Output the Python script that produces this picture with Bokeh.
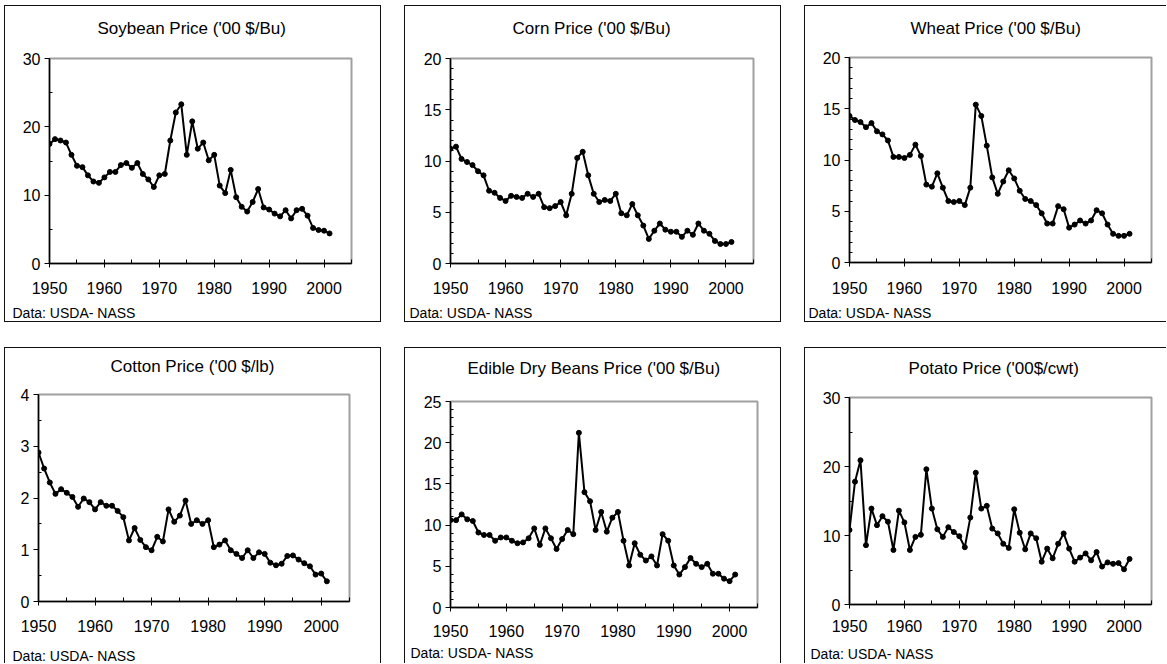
from bokeh.plotting import figure
from bokeh.layouts import row, column
from bokeh.models import Range1d, FixedTicker, Title, Spacer
from bokeh.embed import file_html
from bokeh.resources import INLINE

years = list(range(1950, 2002))

soybean = [17.5, 18.2, 18.0, 17.7, 15.9, 14.3, 14.1, 12.9, 12.0, 11.8,
           12.6, 13.4, 13.4, 14.4, 14.7, 14.0, 14.7, 13.1, 12.3, 11.2,
           12.9, 13.1, 18.0, 22.1, 23.3, 15.9, 20.8, 16.8, 17.7, 15.1,
           15.9, 11.4, 10.3, 13.7, 9.7, 8.3, 7.6, 9.0, 10.9, 8.2,
           7.9, 7.3, 6.9, 7.8, 6.6, 7.8, 8.0, 7.0, 5.2, 4.9,
           4.8, 4.4]
corn = [11.2, 11.4, 10.2, 9.9, 9.6, 9.0, 8.6, 7.1, 6.9, 6.4,
        6.1, 6.6, 6.5, 6.4, 6.8, 6.5, 6.8, 5.5, 5.4, 5.6,
        6.0, 4.7, 6.8, 10.3, 10.9, 8.6, 6.8, 6.0, 6.2, 6.1,
        6.8, 4.9, 4.7, 5.8, 4.7, 3.7, 2.4, 3.2, 3.9, 3.3,
        3.1, 3.1, 2.6, 3.2, 2.8, 3.9, 3.2, 2.9, 2.2, 1.9,
        1.9, 2.1]
wheat = [14.3, 13.9, 13.7, 13.2, 13.6, 12.8, 12.5, 11.9, 10.3, 10.3,
         10.2, 10.5, 11.5, 10.4, 7.6, 7.4, 8.7, 7.3, 6.0, 5.9,
         6.0, 5.6, 7.3, 15.4, 14.3, 11.4, 8.3, 6.7, 7.9, 9.0,
         8.2, 7.0, 6.2, 6.0, 5.6, 4.8, 3.8, 3.8, 5.5, 5.2,
         3.4, 3.7, 4.1, 3.8, 4.1, 5.1, 4.8, 3.7, 2.8, 2.6,
         2.6, 2.8]
cotton = [2.88, 2.57, 2.30, 2.08, 2.17, 2.10, 2.02, 1.83, 1.99, 1.92,
          1.78, 1.92, 1.85, 1.85, 1.75, 1.63, 1.18, 1.42, 1.19, 1.05,
          0.99, 1.25, 1.16, 1.78, 1.54, 1.66, 1.95, 1.50, 1.57, 1.50,
          1.57, 1.05, 1.10, 1.18, 0.99, 0.92, 0.84, 0.99, 0.84, 0.95,
          0.92, 0.75, 0.70, 0.73, 0.88, 0.89, 0.81, 0.74, 0.68, 0.52,
          0.54, 0.39]
beans = [10.6, 10.6, 11.3, 10.7, 10.5, 9.1, 8.8, 8.8, 8.1, 8.5,
         8.5, 8.1, 7.8, 7.9, 8.4, 9.6, 7.6, 9.6, 8.4, 7.1,
         8.3, 9.4, 8.9, 21.2, 14.0, 12.9, 9.4, 11.6, 9.2, 10.9,
         11.6, 8.1, 5.1, 7.8, 6.4, 5.7, 6.2, 5.1, 8.9, 8.1,
         5.1, 4.0, 4.9, 6.0, 5.3, 4.9, 5.3, 4.1, 4.1, 3.5,
         3.2, 4.0]
potato = [10.8, 17.8, 20.9, 8.6, 13.9, 11.5, 12.8, 12.0, 7.9, 13.6,
          11.9, 7.9, 9.8, 10.1, 19.6, 13.9, 10.9, 9.8, 11.2, 10.5,
          9.9, 8.3, 12.6, 19.1, 13.9, 14.3, 11.0, 10.3, 8.8, 8.2,
          13.8, 10.4, 8.0, 10.3, 9.6, 6.2, 8.1, 6.7, 8.8, 10.3,
          8.1, 6.2, 6.8, 7.4, 6.4, 7.6, 5.5, 6.1, 5.9, 6.0,
          5.1, 6.6]

titles = ["Soybean Price ('00 $/Bu)", "Corn Price ('00 $/Bu)", "Wheat Price ('00 $/Bu)",
          "Cotton Price ('00 $/lb)", "Edible Dry Beans Price ('00 $/Bu)", "Potato Price ('00$/cwt)"]
source_note = "Data: USDA- NASS"

x_ticks = [1950, 1960, 1970, 1980, 1990, 2000]
x_minor = [1955, 1965, 1975, 1985, 1995, 2005]

y_max = [30, 20, 20, 4, 25, 30]
y_ticks = [[0, 10, 20, 30], [0, 5, 10, 15, 20], [0, 5, 10, 15, 20],
           [0, 1, 2, 3, 4], [0, 5, 10, 15, 20, 25], [0, 10, 20, 30]]
y_minor = [[5, 15, 25],
           [v for v in range(1, 20) if v % 5],
           [v for v in range(1, 20) if v % 5],
           [0.5, 1.5, 2.5, 3.5],
           [v for v in range(1, 25) if v % 5],
           [5, 15, 25]]

FONT = "Liberation Sans"
BOX = "#111111"

# (width, height, border left, right, top, bottom, title gap, title x offset,
#  tick label standoff, note gap, note x offset)
layouts = [
    (375, 315, 44, 29, 52, 58, 18, 48, 14, 3, -37),
    (375, 315, 45, 27, 52, 58, 18, 62, 14, 3, -41),
    (361, 315, 44, 15, 51, 59, 17, 61, 15, 3, -41),
    (375, 315, 33, 31, 46, 62, 16, 72, 14, 8, -26),
    (375, 315, 45, 23, 53, 56, 21, 17, 13, 0, -40),
    (361, 315, 44, 15, 49, 59, 17, 59, 11, 6, -39),
]
series = [soybean, corn, wheat, cotton, beans, potato]


def gap_title(size):
    # blank side-panel entry that only reserves vertical space
    return Title(text=" ", text_font=FONT, text_font_size="1px", text_color="white",
                 standoff=size)


def make_panel(i):
    w, h, bl, br, bt, bb, tgap, toff, lstand, ngap, noff = layouts[i]
    p = figure(width=w, height=h, x_range=Range1d(1950, 2005), y_range=Range1d(0, y_max[i]),
               output_backend="svg", toolbar_location=None, title_location=None,
               min_border_left=bl, min_border_right=br, min_border_top=bt, min_border_bottom=bb,
               background_fill_color="white", border_fill_color="white")
    xa = p.below[0]
    ya = p.left[0]

    p.add_layout(gap_title(tgap), "above")
    head = Title(text=titles[i], align="left", offset=toff, text_font=FONT,
                 text_font_size="17px", text_font_style="normal", text_color="black", standoff=0)
    p.add_layout(head, "above")

    p.add_layout(gap_title(ngap), "below")
    note = Title(text=source_note, align="left", text_font=FONT, text_font_size="14px",
                 text_font_style="normal", text_color="black", offset=noff, standoff=0)
    p.add_layout(note, "below")

    p.xgrid.visible = False
    p.ygrid.visible = False
    p.outline_line_color = "#a0a0a0"
    p.outline_line_width = 2

    xa.ticker = FixedTicker(ticks=x_ticks, minor_ticks=x_minor)
    ya.ticker = FixedTicker(ticks=y_ticks[i], minor_ticks=y_minor[i])
    for ax in (xa, ya):
        ax.axis_line_color = "black"
        ax.axis_line_width = 1.5
        ax.major_tick_line_color = "black"
        ax.minor_tick_line_color = "black"
        ax.major_label_text_font = FONT
        ax.major_label_text_font_size = "16px"
        ax.major_label_text_color = "black"
    xa.major_tick_in = 4
    xa.major_tick_out = 4
    xa.minor_tick_in = 4
    xa.minor_tick_out = 0
    xa.major_label_standoff = lstand
    ya.major_tick_in = 0
    ya.major_tick_out = 5
    ya.minor_tick_in = 3
    ya.minor_tick_out = 0
    ya.major_label_standoff = 4

    p.line(years, series[i], line_color="black", line_width=2)
    p.scatter(years, series[i], size=5, color="black")
    return p


def hline(w):
    return Spacer(width=w, height=1, styles={"background-color": BOX})


def vline(h):
    return Spacer(width=1, height=h, styles={"background-color": BOX})


panels = [make_panel(i) for i in range(6)]

row1 = row(Spacer(width=4, height=317),
           vline(317), column(hline(375), panels[0], hline(375)), vline(317),
           Spacer(width=23, height=317),
           vline(317), column(hline(375), panels[1], hline(375)), vline(317),
           Spacer(width=23, height=317),
           vline(317), column(hline(361), panels[2], hline(361)))
row2 = row(Spacer(width=4, height=316),
           vline(316), column(hline(375), panels[3]), vline(316),
           Spacer(width=23, height=316),
           vline(316), column(hline(375), panels[4]), vline(316),
           Spacer(width=23, height=316),
           vline(316), column(hline(361), panels[5]))
layout = column(Spacer(width=1166, height=5), row1, Spacer(width=1166, height=25), row2)

open("out.html", "w").write(file_html(layout, INLINE))
